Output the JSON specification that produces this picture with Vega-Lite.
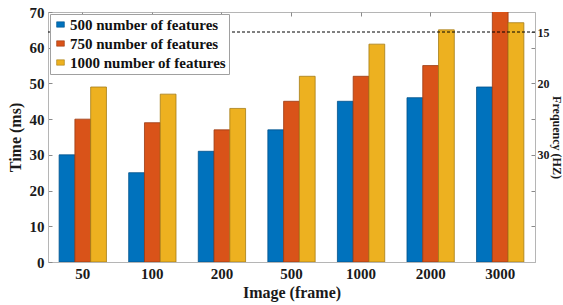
{
  "$schema": "https://vega.github.io/schema/vega-lite/v6.json",
  "width": 487,
  "height": 250,
  "autosize": {"type": "none"},
  "padding": {"left": 48, "top": 12, "right": 28, "bottom": 43},
  "config": {
    "font": "Liberation Serif",
    "view": {"stroke": "#b5b5b5", "strokeWidth": 1},
    "axis": {
      "domainColor": "#b5b5b5",
      "tickColor": "#8a8a8a",
      "grid": false,
      "labelFont": "Liberation Serif",
      "labelFontWeight": "bold",
      "labelColor": "#1a1a1a",
      "titleFont": "Liberation Serif",
      "titleFontWeight": "bold",
      "titleColor": "#1a1a1a"
    },
    "legend": {
      "labelFont": "Liberation Serif"
    }
  },
  "data": {
    "values": [
      {"frame": "50", "series": "500 number of features", "time": 30},
      {"frame": "50", "series": "750 number of features", "time": 40},
      {"frame": "50", "series": "1000 number of features", "time": 49},
      {"frame": "100", "series": "500 number of features", "time": 25},
      {"frame": "100", "series": "750 number of features", "time": 39},
      {"frame": "100", "series": "1000 number of features", "time": 47},
      {"frame": "200", "series": "500 number of features", "time": 31},
      {"frame": "200", "series": "750 number of features", "time": 37},
      {"frame": "200", "series": "1000 number of features", "time": 43},
      {"frame": "500", "series": "500 number of features", "time": 37},
      {"frame": "500", "series": "750 number of features", "time": 45},
      {"frame": "500", "series": "1000 number of features", "time": 52},
      {"frame": "1000", "series": "500 number of features", "time": 45},
      {"frame": "1000", "series": "750 number of features", "time": 52},
      {"frame": "1000", "series": "1000 number of features", "time": 61},
      {"frame": "2000", "series": "500 number of features", "time": 46},
      {"frame": "2000", "series": "750 number of features", "time": 55},
      {"frame": "2000", "series": "1000 number of features", "time": 65},
      {"frame": "3000", "series": "500 number of features", "time": 49},
      {"frame": "3000", "series": "750 number of features", "time": 72},
      {"frame": "3000", "series": "1000 number of features", "time": 67}
    ]
  },
  "layer": [
    {
      "mark": {"type": "bar", "clip": true, "strokeWidth": 0.8},
      "encoding": {
        "x": {
          "field": "frame",
          "type": "ordinal",
          "sort": ["50", "100", "200", "500", "1000", "2000", "3000"],
          "scale": {"paddingInner": 0.32, "paddingOuter": 0.16},
          "axis": {
            "title": "Image (frame)",
            "titleFontSize": 16,
            "titlePadding": 3,
            "labelFontSize": 15,
            "labelAngle": 0,
            "tickSize": -4,
            "labelPadding": 8
          }
        },
        "xOffset": {
          "field": "series",
          "sort": ["500 number of features", "750 number of features", "1000 number of features"]
        },
        "y": {
          "field": "time",
          "type": "quantitative",
          "scale": {"domain": [0, 70], "nice": false},
          "axis": {
            "title": "Time (ms)",
            "titleFontSize": 16,
            "titlePadding": 6,
            "labelFontSize": 15,
            "values": [0, 10, 20, 30, 40, 50, 60, 70],
            "tickSize": -4,
            "labelPadding": 8
          }
        },
        "color": {
          "field": "series",
          "type": "nominal",
          "scale": {
            "domain": ["500 number of features", "750 number of features", "1000 number of features"],
            "range": ["#0072BD", "#D95319", "#EDB120"]
          },
          "legend": {
            "title": null,
            "orient": "none",
            "legendX": 2,
            "legendY": 2,
            "fillColor": "white",
            "strokeColor": "#a0a0a0",
            "padding": 3,
            "labelFont": "Liberation Serif",
            "labelFontWeight": "bold",
            "labelFontSize": 15,
            "labelColor": "#111111",
            "symbolType": "M-1,-0.7H1V0.7H-1Z",
            "symbolSize": 60,
            "symbolStrokeWidth": 0.6,
            "rowPadding": 3,
            "labelOffset": 2
          }
        },
        "stroke": {
          "field": "series",
          "type": "nominal",
          "scale": {
            "domain": ["500 number of features", "750 number of features", "1000 number of features"],
            "range": ["#00508a", "#9a3a12", "#a57c16"]
          },
          "legend": null
        }
      }
    },
    {
      "mark": {"type": "bar", "opacity": 0},
      "encoding": {
        "x": {
          "field": "frame",
          "type": "ordinal",
          "sort": ["50", "100", "200", "500", "1000", "2000", "3000"],
          "axis": {"orient": "top", "title": null, "labels": false, "tickSize": -4, "domain": false}
        }
      }
    },
    {
      "data": {"values": [{"threshold": 64.4}]},
      "mark": {"type": "rule", "strokeDash": [3, 2], "color": "black", "strokeWidth": 1},
      "encoding": {
        "y": {
          "field": "threshold",
          "type": "quantitative",
          "scale": {"domain": [0, 70], "nice": false},
          "axis": {
            "orient": "right",
            "title": "Frequency (HZ)",
            "titleAngle": 90,
            "titleFontSize": 12,
            "titlePadding": 0,
            "labelFontSize": 12,
            "values": [64.4, 60, 50, 40, 30, 20, 10],
            "labelExpr": "datum.value == 64.4 ? '15' : datum.value == 50 ? '20' : datum.value == 30 ? '30' : ''",
            "tickSize": -4,
            "labelPadding": 6
          }
        }
      }
    }
  ],
  "resolve": {"scale": {"y": "independent"}, "axis": {"x": "independent"}}
}
